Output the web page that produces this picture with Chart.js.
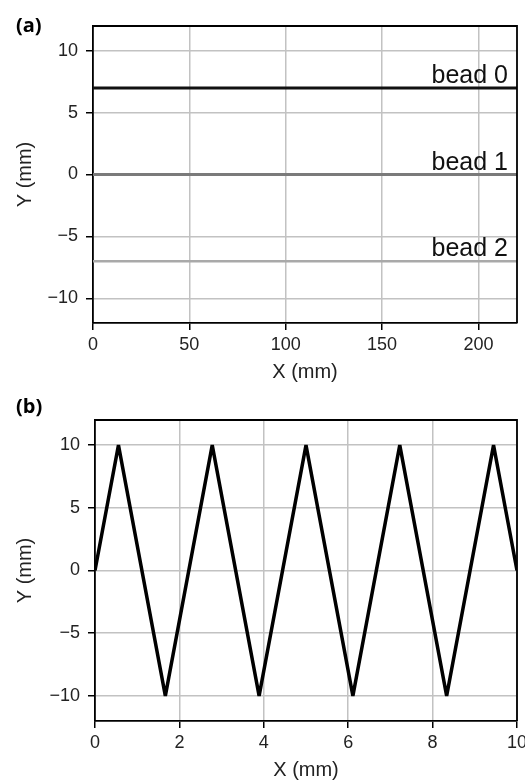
<!DOCTYPE html>
<html>
<head>
<meta charset="utf-8">
<script src="https://cdn.jsdelivr.net/npm/chart.js@4.4.1/dist/chart.umd.min.js"></script>
<style>
  html, body { margin: 0; padding: 0; background: #fff; }
  .panel { position: absolute; left: 0; width: 525px; height: 390px; }
</style>
</head>
<body>
<div class="panel" style="top:0"><canvas id="chartA"></canvas></div>
<div class="panel" style="top:390px"><canvas id="chartB"></canvas></div>
<script>
// (a) straight beads
const BEAD_NAMES = ['bead 0', 'bead 1', 'bead 2'];
const BEAD_Y = [7, 0, -7];
const BEAD_X = [0, 220];
const BEAD_COLORS = ['#111111', '#7a7a7a', '#a9a9a9'];
const BEAD_WIDTHS = [3, 3, 2.5];
const A_X_TICKS = [0, 50, 100, 150, 200];
const A_Y_TICKS = [-10, -5, 0, 5, 10];

// (b) zigzag path
const ZIG_X = [0, 0.556, 1.667, 2.778, 3.889, 5.0, 6.111, 7.222, 8.333, 9.444, 10];
const ZIG_Y = [0, 10, -10, 10, -10, 10, -10, 10, -10, 10, 0];
const B_X_TICKS = [0, 2, 4, 6, 8, 10];
const B_Y_TICKS = [-10, -5, 0, 5, 10];

Chart.defaults.font.family = "'Liberation Sans', Arial, sans-serif";
Chart.defaults.color = '#222';

const fmtTick = v => (v < 0 ? '\u2212' + Math.abs(v) : String(v));

function makeScales(o) {
  const grid = { color: '#c2c2c2', lineWidth: 1.5, tickColor: '#000', tickLength: 7 };
  const border = { color: '#000', width: 1.8 };
  return {
    x: {
      type: 'linear', min: o.xMin, max: o.xMax, grid, border,
      afterBuildTicks: s => { s.ticks = o.xTicks.map(v => ({ value: v })); },
      afterFit: s => { s.height = o.xAxisHeight; s.paddingLeft = 0; s.paddingRight = 0; },
      ticks: { padding: 4, color: '#222', font: { size: 18 }, maxRotation: 0, callback: fmtTick },
      title: { display: true, text: 'X (mm)', color: '#222', font: { size: 20 }, padding: { top: 0, bottom: o.xTitlePad } }
    },
    y: {
      type: 'linear', min: -12, max: 12, grid, border,
      afterBuildTicks: s => { s.ticks = o.yTicks.map(v => ({ value: v })); },
      afterFit: s => { s.width = o.yAxisWidth; s.paddingTop = 0; s.paddingBottom = 0; },
      ticks: { padding: 8, color: '#222', font: { size: 18 }, callback: fmtTick },
      title: { display: true, text: 'Y (mm)', color: '#222', font: { size: 20 }, padding: { top: 13, bottom: 0 } }
    }
  };
}

// closes the frame and writes the panel letter and curve names
const panelDecor = {
  id: 'panelDecor',
  afterDraw(chart, args, opts) {
    const { ctx, chartArea: a, scales } = chart;
    ctx.save();
    ctx.strokeStyle = '#000';
    ctx.lineWidth = 1.8;
    ctx.beginPath();
    ctx.moveTo(a.left, a.top);
    ctx.lineTo(a.right, a.top);
    ctx.lineTo(a.right, a.bottom);
    ctx.stroke();

    ctx.fillStyle = '#000';
    ctx.font = "bold 20px 'Open Sans', sans-serif";
    ctx.textAlign = 'left';
    ctx.textBaseline = 'middle';
    ctx.fillText(opts.letter, 16, opts.letterY);

    if (opts.names) {
      ctx.font = "25px 'Liberation Sans', Arial, sans-serif";
      ctx.fillStyle = '#111';
      ctx.textAlign = 'right';
      ctx.textBaseline = 'alphabetic';
      opts.names.forEach((name, i) => {
        const x = scales.x.getPixelForValue(BEAD_X[BEAD_X.length - 1]) - 9;
        const y = scales.y.getPixelForValue(BEAD_Y[i]) - 5;
        ctx.fillText(name, x, y);
      });
    }
    ctx.restore();
  }
};

const baseOptions = {
  responsive: true,
  maintainAspectRatio: false,
  animation: false,
  events: []
};

new Chart(document.getElementById('chartA'), {
  type: 'line',
  data: {
    datasets: BEAD_NAMES.map((name, i) => ({
      label: name,
      data: BEAD_X.map(x => ({ x, y: BEAD_Y[i] })),
      borderColor: BEAD_COLORS[i],
      borderWidth: BEAD_WIDTHS[i],
      pointRadius: 0,
      tension: 0,
      fill: false
    }))
  },
  options: {
    ...baseOptions,
    layout: { padding: { left: 0, top: 26, right: 8, bottom: 0 } },
    scales: makeScales({ xMin: 0, xMax: 220, xTicks: A_X_TICKS, yTicks: A_Y_TICKS, xAxisHeight: 67, yAxisWidth: 93, xTitlePad: 6 }),
    plugins: {
      legend: { display: false },
      tooltip: { enabled: false },
      panelDecor: { letter: '(a)', letterY: 26, names: BEAD_NAMES }
    }
  },
  plugins: [panelDecor]
});

new Chart(document.getElementById('chartB'), {
  type: 'line',
  data: {
    datasets: [{
      label: 'path',
      data: ZIG_X.map((x, i) => ({ x, y: ZIG_Y[i] })),
      borderColor: '#000',
      borderWidth: 3.5,
      borderJoinStyle: 'bevel',
      pointRadius: 0,
      tension: 0,
      fill: false
    }]
  },
  options: {
    ...baseOptions,
    layout: { padding: { left: 0, top: 30, right: 8, bottom: 0 } },
    scales: makeScales({ xMin: 0, xMax: 10, xTicks: B_X_TICKS, yTicks: B_Y_TICKS, xAxisHeight: 59, yAxisWidth: 95, xTitlePad: -2 }),
    plugins: {
      legend: { display: false },
      tooltip: { enabled: false },
      panelDecor: { letter: '(b)', letterY: 17 }
    }
  },
  plugins: [panelDecor]
});
</script>
</body>
</html>
